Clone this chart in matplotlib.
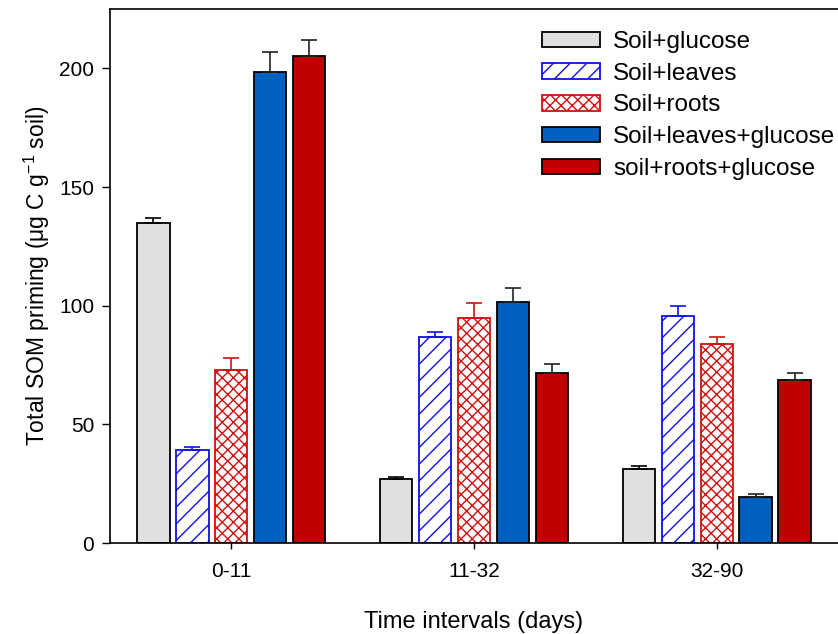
import matplotlib
matplotlib.use("Agg")
import matplotlib.pyplot as plt
import numpy as np

plt.rcParams['font.family'] = ['Liberation Sans', 'DejaVu Sans']
plt.rcParams['hatch.linewidth'] = 1.0

intervals = ["0-11", "11-32", "32-90"]
treatments = ["Soil+glucose", "Soil+leaves", "Soil+roots",
              "Soil+leaves+glucose", "soil+roots+glucose"]

glucose = [135, 27, 31]
leaves = [39, 87, 95.5]
roots = [73, 95, 84]
leaves_glucose = [198.5, 101.5, 19.5]
roots_glucose = [205, 71.5, 68.5]

glucose_err = [2, 1, 1.5]
leaves_err = [1.5, 2, 4.5]
roots_err = [5, 6, 3]
leaves_glucose_err = [8.5, 6, 1.2]
roots_glucose_err = [7, 4, 3]

series = [glucose, leaves, roots, leaves_glucose, roots_glucose]
errors = [glucose_err, leaves_err, roots_err, leaves_glucose_err, roots_glucose_err]

# face, edge, hatch, errorbar colour
styles = [
    ("#E0E0E0", "black", None, "black"),
    ("white", "#1010E0", "//", "#1010E0"),
    ("white", "#D01010", "xxx", "#D01010"),
    ("#0060C0", "black", None, "#222222"),
    ("#C00000", "black", None, "#222222"),
]

fig = plt.figure(figsize=(8.38, 6.34), dpi=100)
ax = fig.add_axes([0.1313, 0.1435, 0.8687, 0.8423])

x = np.arange(len(intervals))
step = 0.1605
width = 0.133
for i, (vals, errs, (fc, ec, hatch, errc)) in enumerate(zip(series, errors, styles)):
    pos = x + (i - 2) * step
    ax.bar(pos, vals, width, color=fc, edgecolor=ec, hatch=hatch,
           linewidth=1.3, label=treatments[i], zorder=2)
    ax.errorbar(pos, vals, yerr=[np.zeros(len(errs)), errs], fmt="none",
                ecolor=errc, elinewidth=1.2, capsize=5.5, capthick=1.2, zorder=3)

ax.set_xlim(-0.5, 2.5)
ax.set_ylim(0, 225)
ax.set_yticks([0, 50, 100, 150, 200])
ax.set_xticks(x)
ax.set_xticklabels(intervals)
ax.tick_params(axis="both", labelsize=15, direction="out", width=1.0)
ax.tick_params(axis="x", length=4.5, pad=9)
ax.tick_params(axis="y", length=5.5, pad=6)
ax.spines["right"].set_visible(False)
for s in ["left", "bottom", "top"]:
    ax.spines[s].set_linewidth(1.2)

ax.set_xlabel("Time intervals (days)", fontsize=17, labelpad=22)
ax.set_ylabel(r"Total SOM priming (μg C g$^{\mathregular{-1}}$ soil)", fontsize=16.5, labelpad=5)

ax.legend(loc="upper right", bbox_to_anchor=(1.01, 0.977), frameon=False,
          fontsize=17.5, handlelength=2.4, handleheight=0.6,
          handletextpad=0.55, labelspacing=0.4, borderaxespad=0.0)

fig.savefig("out.png", dpi=100)
